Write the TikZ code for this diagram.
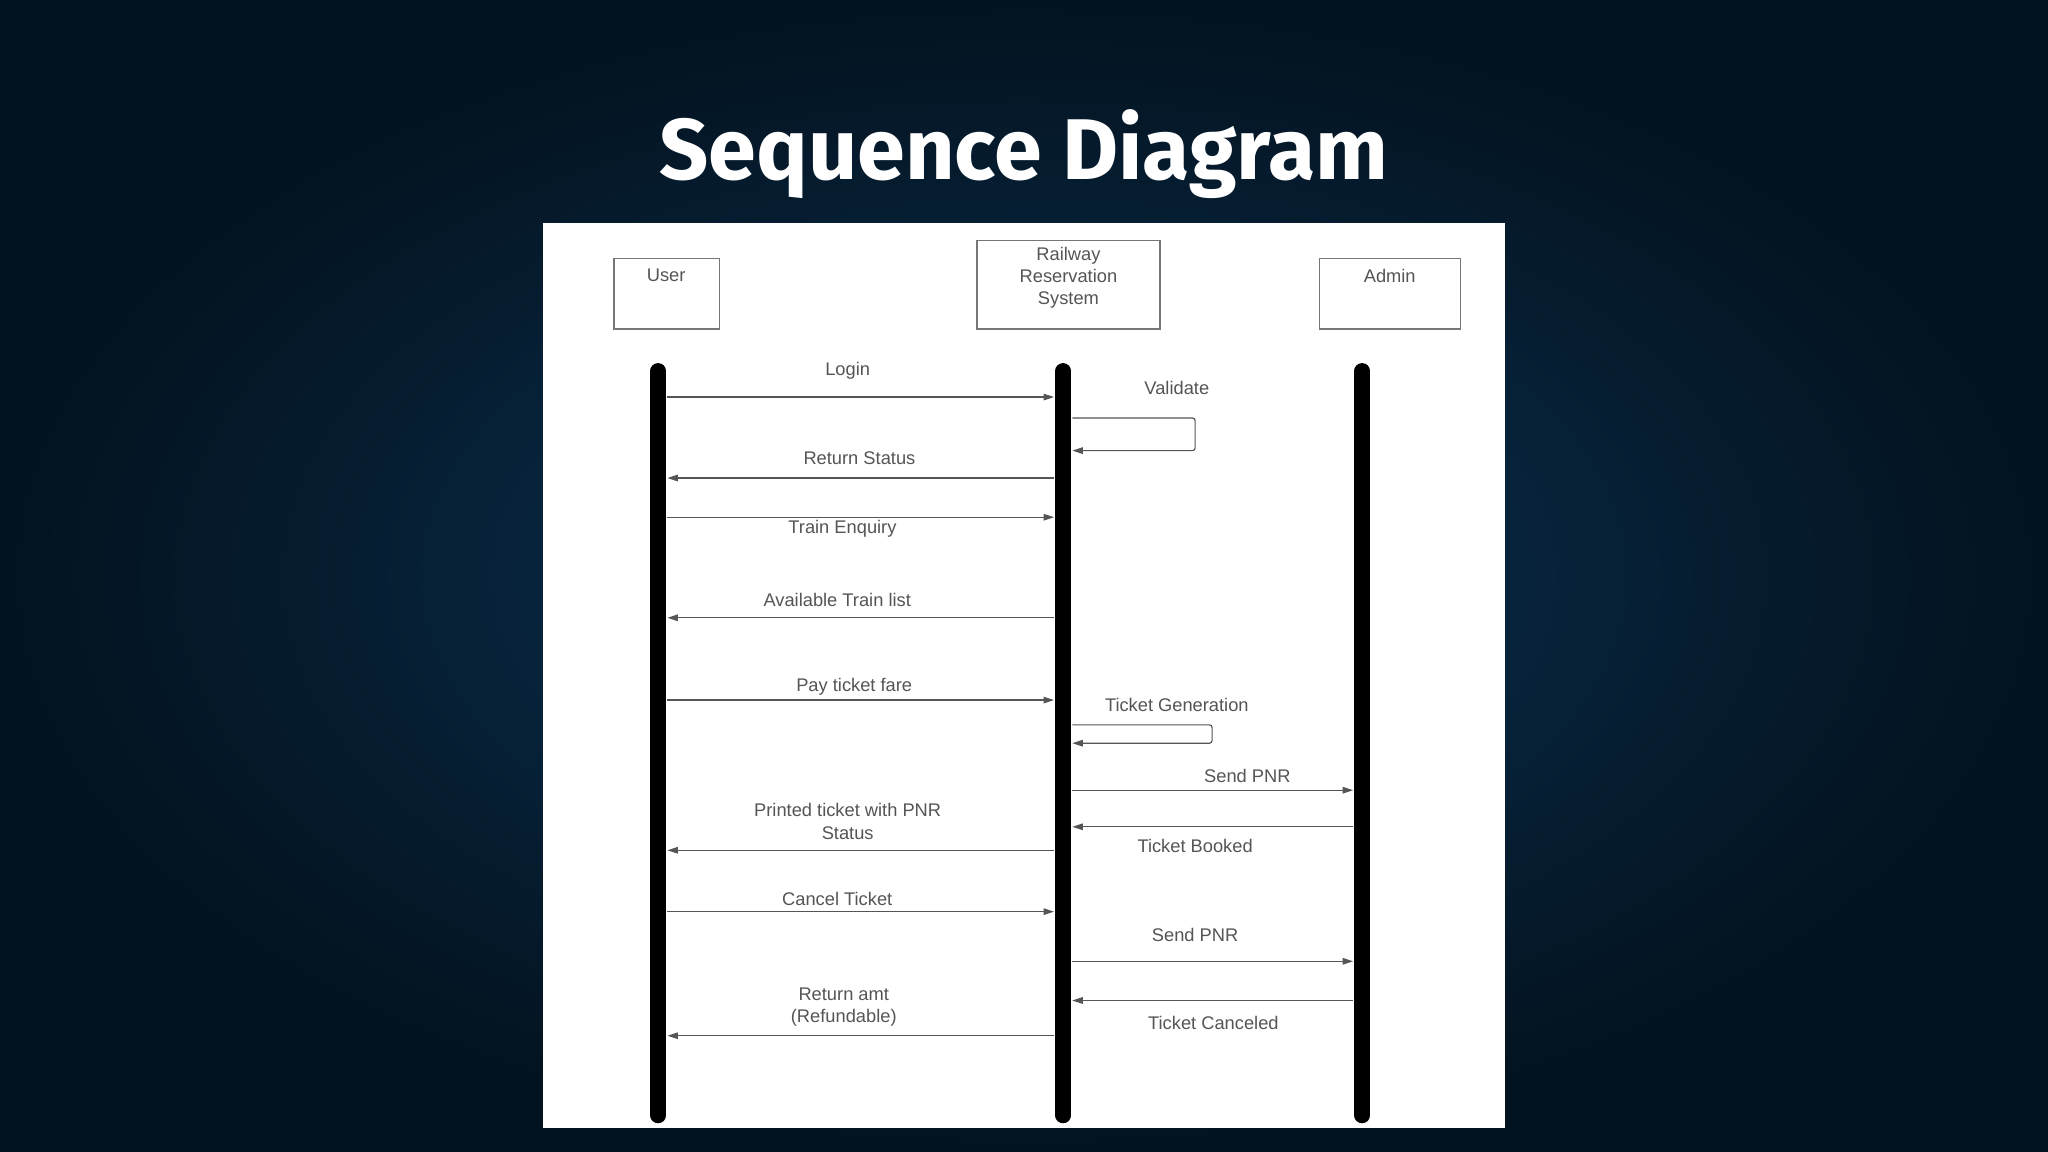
\documentclass[tikz,border=0pt]{standalone}
\usepackage{fontspec}
\setmainfont{Liberation Sans}
\newfontfamily\titlefont{Fira Sans}
\usetikzlibrary{arrows.meta}
\definecolor{bgin}{HTML}{0B3354}
\definecolor{bgout}{HTML}{03121F}
\definecolor{msg}{HTML}{555555}
\begin{document}
\begin{tikzpicture}[x=1pt,y=-1pt,
  actor/.style={draw=msg!80,line width=1pt,minimum width=#1,anchor=north},
  life/.style={line width=12pt,line cap=round,black},
  msgline/.style={draw=msg,line width=0.9pt,-{Triangle[length=8pt,width=5pt]}},
  lbl/.style={text=msg,font=\fontsize{14}{17}\selectfont,align=center,inner sep=1pt}]
\useasboundingbox (0,0) rectangle (1568,882);
\shade[inner color=bgin,outer color=bgout] (0,0) rectangle (1568,882);
\node[text=white,font=\titlefont\bfseries\fontsize{66}{70}\selectfont] (title) at (784,118) {Sequence Diagram};
\fill[white] (416,171) rectangle (1152,864);
% actor boxes
\draw[msg!80,line width=1pt] (470,198) rectangle (551,252);
\draw[msg!80,line width=1pt] (748,184) rectangle (888,252);
\draw[msg!80,line width=1pt] (1010,198) rectangle (1118,252);
\node[lbl] (user) at (510,211) {User};
\node[lbl,anchor=north] (rrs) at (818,188) {Railway\\Reservation\\System};
\node[lbl] (admin) at (1064,211) {Admin};
% lifelines
\coordinate (u0) at (504,284); \coordinate (u1) at (504,854);
\coordinate (r0) at (814,284); \coordinate (r1) at (814,854);
\coordinate (a0) at (1043,284); \coordinate (a1) at (1043,854);
\draw[life] (u0) -- (u1);
\draw[life] (r0) -- (r1);
\draw[life] (a0) -- (a1);
% messages
\newcommand{\R}[2]{\draw[msgline] (511,#1) -- (807,#1);}
\newcommand{\Lf}[1]{\draw[msgline] (807,#1) -- (511,#1);}
\R{304}{} \node[lbl] (l1) at (649,284) {Login};
\node[lbl] (l2) at (901,297) {Validate};
\draw[msgline,rounded corners=2pt] (821,320) -- (915,320) -- (915,345) -- (821,345);
\Lf{366} \node[lbl] (l3) at (658,351) {Return Status};
\R{396}{} \node[lbl] (l4) at (645,405) {Train Enquiry};
\Lf{473} \node[lbl] (l5) at (641,459) {Available Train list};
\R{536}{} \node[lbl] (l6) at (654,526) {Pay ticket fare};
\node[lbl] (l7) at (901,540) {Ticket Generation};
\draw[msgline,rounded corners=2pt] (821,555) -- (928,555) -- (928,569) -- (821,569);
\draw[msgline] (821,605) -- (1036,605); \node[lbl] (l8) at (955,594) {Send PNR};
\draw[msgline] (1036,633) -- (821,633); \node[lbl] (l9) at (915,648) {Ticket Booked};
\Lf{651} \node[lbl] (l10) at (649,629) {Printed ticket with PNR\\Status};
\R{698}{} \node[lbl] (l11) at (641,688) {Cancel Ticket};
\draw[msgline] (821,736) -- (1036,736); \node[lbl] (l12) at (915,716) {Send PNR};
\draw[msgline] (1036,766) -- (821,766); \node[lbl] (l13) at (929,783) {Ticket Canceled};
\Lf{793} \node[lbl] (l14) at (646,771) {Return amt\\(Refundable)};
\end{tikzpicture}
\end{document}
